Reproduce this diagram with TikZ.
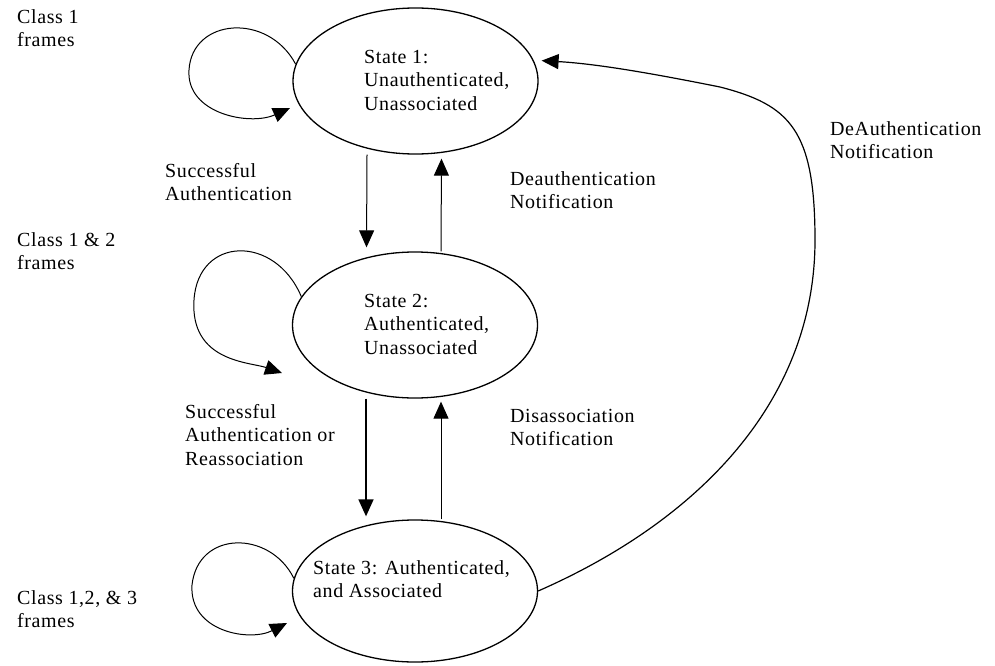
\documentclass[tikz,border=0pt]{standalone}
\usepackage{fontspec}
\setmainfont{Liberation Serif}[LetterSpace=3.0]
\usetikzlibrary{arrows.meta,shapes.geometric}

\begin{document}
\begin{tikzpicture}[x=1pt,y=-1pt,
  state/.style={draw, ellipse, line width=1.3pt, minimum width=245pt,
                minimum height=146pt, inner sep=0pt},
  lbl/.style={anchor=north west, align=left, inner sep=0pt,
              font=\fontsize{20}{23.5}\selectfont},
  conn/.style={line width=1pt, -{Triangle[length=17pt,width=15pt]}},
]
\useasboundingbox (0,0) rectangle (995,666);

% the three states
\node[state] (s1) at (415.5,81) {};
\node[state] (s2) at (415,325) {};
\node[state, minimum height=142pt] (s3) at (415,591) {};

\node[lbl] (t1) at (364,50) {State 1:\\Unauthenticated,\\Unassociated};
\node[lbl] (t2) at (364,294) {State 2:\\Authenticated,\\Unassociated};
\node[lbl] (t3) at (313,560) {State 3: Authenticated,\\and Associated};

% frame classes allowed in each state
\node[lbl] (c1) at (17,9)   {Class 1\\frames};
\node[lbl] (c2) at (17,232) {Class 1 \& 2\\frames};
\node[lbl] (c3) at (17,590) {Class 1,2, \& 3\\frames};

% transition labels
\node[lbl] (l12) at (165,163) {Successful\\Authentication};
\node[lbl] (l21) at (510,171) {Deauthentication\\Notification};
\node[lbl] (l23) at (185,404) {Successful\\Authentication or\\Reassociation};
\node[lbl] (l32) at (510,409) {Disassociation\\Notification};
\node[lbl] (l31) at (830,121) {DeAuthentication\\Notification};

% self loops
\coordinate (e1) at (290,108);
\coordinate (e2) at (282,373);
\coordinate (e3) at (287,623);
\draw[conn] (s1.172) .. controls (268,12) and (192,18) .. (189,70)
            .. controls (186,114) and (250,126) .. (e1);
\draw[conn] (s2.166) .. controls (275,234) and (198,236) .. (194,300)
            .. controls (190,362) and (250,362) .. (e2);
\draw[conn] (s3.174) .. controls (270,530) and (198,530) .. (192,585)
            .. controls (189,632) and (250,642) .. (e3);

% vertical transitions
\draw[conn, shorten >=4pt] ([xshift=-48.5pt]s1.south) -- ([xshift=-48.5pt]s2.north);
\draw[conn, shorten >=4pt] ([xshift=26pt]s2.north) -- ([xshift=26pt]s1.south);
\draw[conn, line width=1.6pt, shorten >=3pt] ([xshift=-49pt]s2.south) -- ([xshift=-49pt]s3.north);
\draw[conn, shorten >=3pt] ([xshift=26pt]s3.north) -- ([xshift=26pt]s2.south);

% long return from state 3 to state 1
\draw[conn, line width=1.2pt, shorten >=8pt] (s3.east)
   .. controls (700,520) and (815,400) .. (815,240)
   .. controls (815,130) and (790,105) .. (720,87)
   .. controls (660,75) and (600,64) .. (s1.10);
\end{tikzpicture}
\end{document}
